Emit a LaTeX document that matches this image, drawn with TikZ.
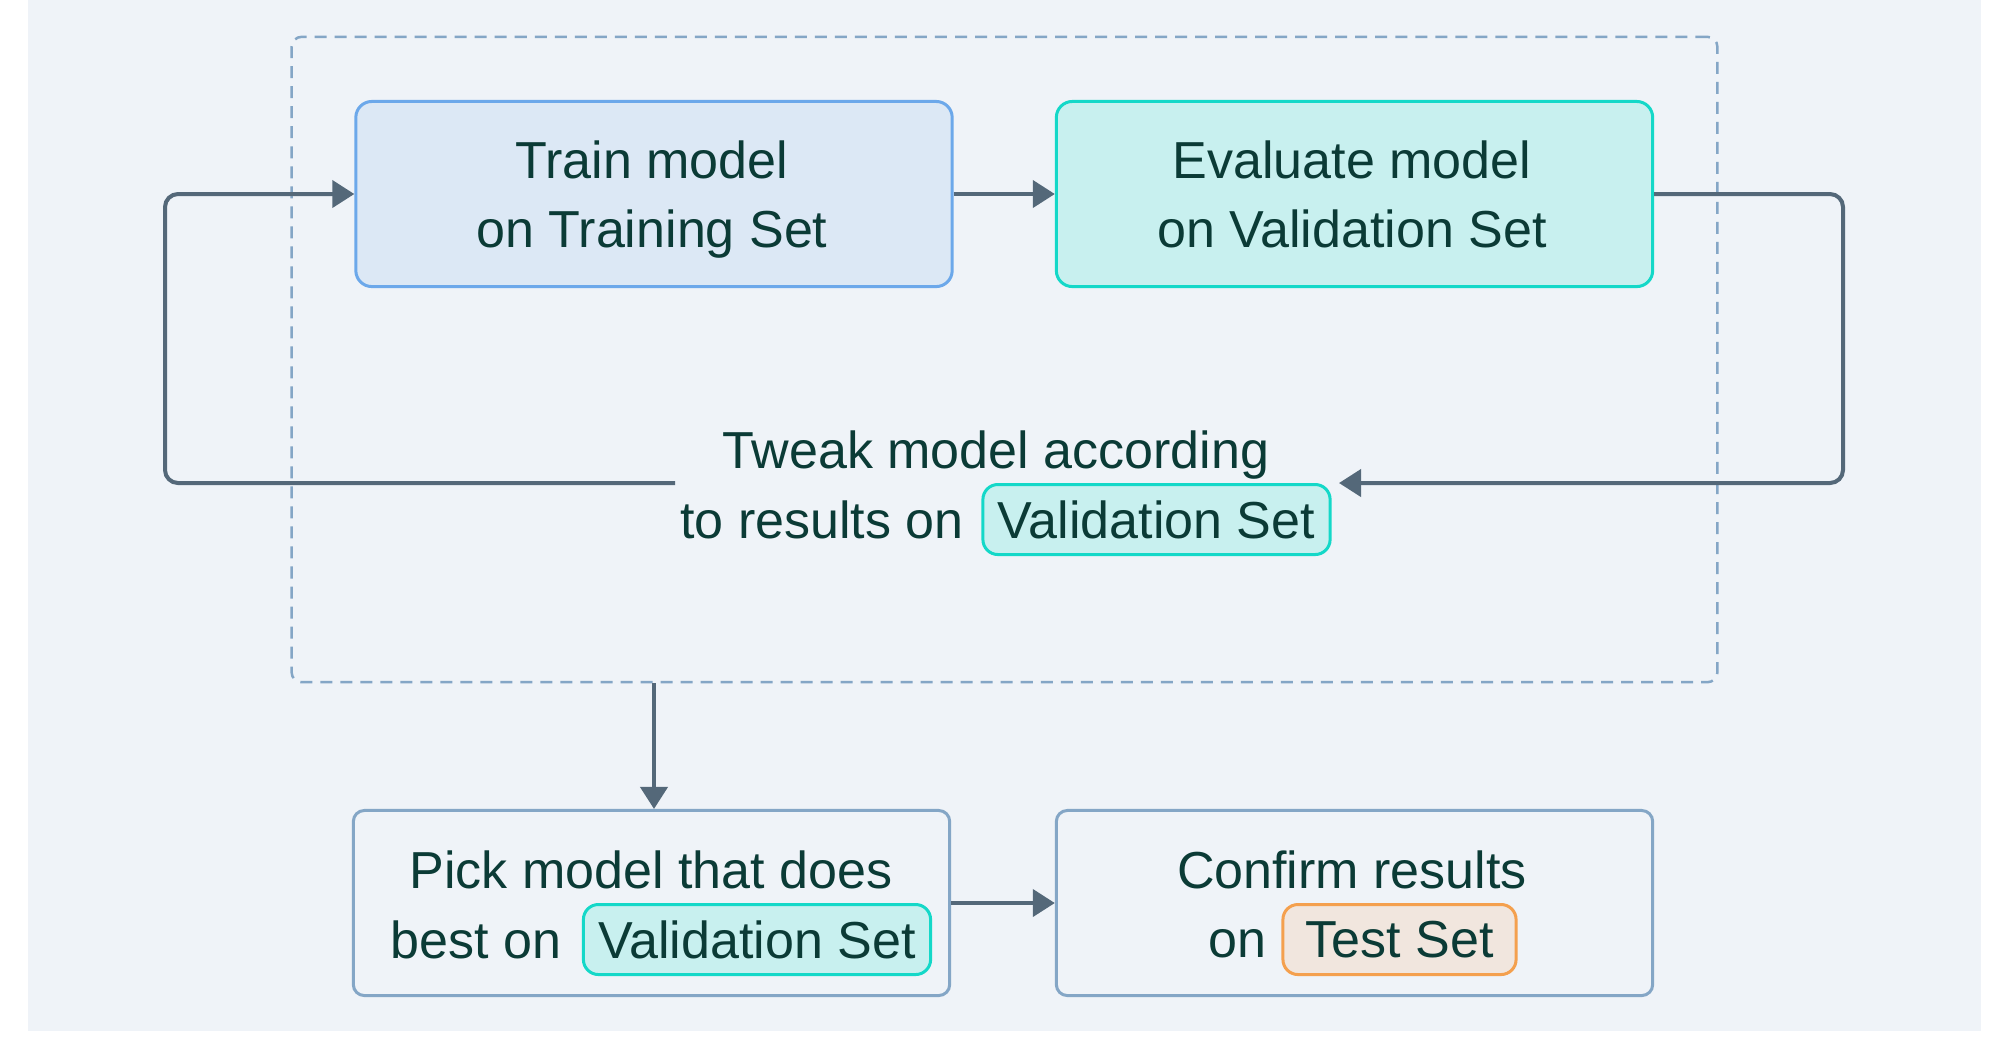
\documentclass[tikz,border=0pt]{standalone}
\usepackage{fontspec}
\setmainfont{Liberation Sans}
\usetikzlibrary{arrows.meta,positioning}

\definecolor{bgc}{HTML}{EFF3F8}
\definecolor{txtc}{HTML}{0B3B36}
\definecolor{flowc}{HTML}{546879}
\definecolor{plainline}{HTML}{84A6C6}
\definecolor{trainline}{HTML}{6CA8EA}
\definecolor{trainfill}{HTML}{DCE8F5}
\definecolor{validline}{HTML}{14D8C8}
\definecolor{validfill}{HTML}{C8F0EF}
\definecolor{testline}{HTML}{F4A04E}
\definecolor{testfill}{HTML}{F1E6DE}

\begin{document}
\begin{tikzpicture}[x=0.01cm, y=-0.01cm,
    every node/.style={font=\fontsize{14.8}{19.6}\selectfont, text=txtc, inner sep=0pt},
    stepbox/.style={line width=0.03cm, rounded corners=0.16cm, minimum width=5.96cm, minimum height=1.85cm},
    trainbox/.style={stepbox, draw=trainline, fill=trainfill},
    evalbox/.style={stepbox, draw=validline, fill=validfill},
    plainbox/.style={stepbox, draw=plainline, fill=bgc, rounded corners=0.11cm},
    pill/.style={line width=0.03cm, rounded corners=0.15cm, minimum height=0.70cm},
    validpill/.style={pill, draw=validline, fill=validfill, minimum width=3.47cm},
    testpill/.style={pill, draw=testline, fill=testfill, minimum width=2.33cm},
    groupbox/.style={draw=plainline, line width=0.025cm, dash pattern=on 0.12cm off 0.08cm, rounded corners=0.1cm, minimum width=14.25cm, minimum height=6.45cm},
    flow/.style={draw=flowc, line width=0.04cm, -{Triangle[length=0.22cm, width=0.27cm]}}
]
\useasboundingbox (0,0) rectangle (1994,1050);
\fill[bgc] (28,0) rectangle (1981,1031);

% loop of training and validation
\node[groupbox] (group) at (1004.5,359.5) {};

\node[trainbox] (train) at (654,194) {};
\node[evalbox] (eval) at (1354.5,194) {};
\node[anchor=base] (trainA) at (652,178) {Train model};
\node[anchor=base] (trainB) at (652,247) {on Training Set};
\node[anchor=base] (evalA) at (1352,178) {Evaluate model};
\node[anchor=base] (evalB) at (1352,247) {on Validation Set};

\node[anchor=base] (tweakA) at (996,468) {Tweak model according};
\node[validpill] (tweakpill) at (1156.5,519.5) {Validation Set};
\node[base left=0.17cm of tweakpill] (tweakB) {to results on};

\coordinate (tweakin) at (1339,483);
\coordinate (tweakout) at (675,483);
\coordinate (loopr) at (1843,483);
\coordinate (loopl) at (165,483);

\draw[flow] (train) -- (eval);
\draw[flow, rounded corners=0.13cm] (eval.east) -| (loopr) -- (tweakin);
\draw[flow, rounded corners=0.13cm] (tweakout) -- (loopl) |- (train.west);

% final choice
\node[plainbox] (pick) at (651.5,903) {};
\node[plainbox] (confirm) at (1354.5,903) {};
\node[anchor=base] (pickA) at (651,888) {Pick model that does};
\node[validpill] (pickpill) at (757,939.5) {Validation Set};
\node[base left=0.2cm of pickpill] (pickB) {best on};
\node[anchor=base] (confirmA) at (1352,888) {Confirm results};
\node[testpill] (testpill) at (1399.5,939.5) {Test Set};
\node[base left=0.14cm of testpill] (confirmB) {on};

\draw[flow] (train |- group.south) -- (train |- pick.north);
\draw[flow] (pick) -- (confirm);
\end{tikzpicture}
\end{document}
